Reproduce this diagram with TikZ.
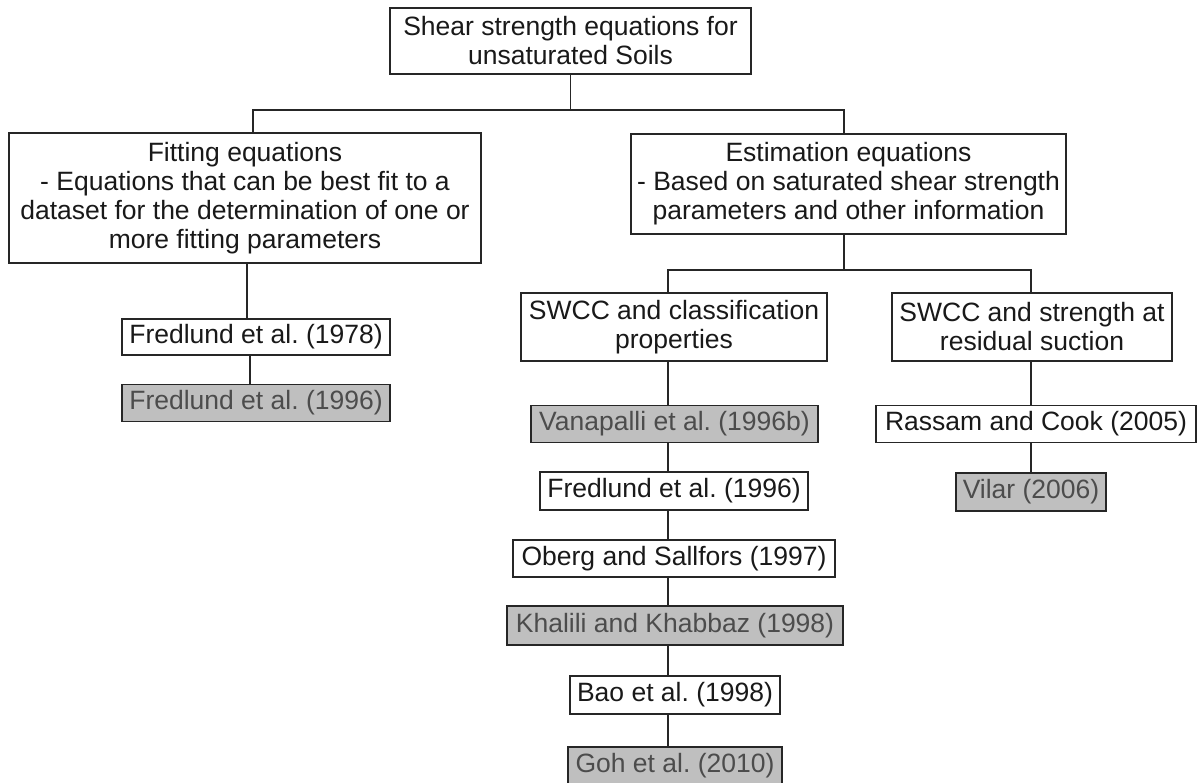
\documentclass[tikz,border=0pt]{standalone}
\usepackage{fontspec}
\setmainfont{Liberation Sans}
\frenchspacing
\definecolor{boxline}{gray}{0.15}
\definecolor{grayfill}{gray}{0.75}
\definecolor{graytext}{gray}{0.30}
\tikzset{
  basebox/.style={draw=boxline, line width=1.4pt, inner sep=0pt, align=center,
    font=\fontsize{26.5}{29}\selectfont\frenchspacing, text=black!90},
  whitebox/.style={basebox, fill=white},
  graybox/.style={basebox, fill=grayfill, text=graytext},
  conn/.style={draw=boxline, line width=1.3pt}
}
\begin{document}
\begin{tikzpicture}[x=1pt,y=-1pt]
\useasboundingbox (0,0) rectangle (1200,783);
\fill[white] (0,0) rectangle (1200,783);

\node[whitebox, minimum width=361, minimum height=66] (top) at (570.5,41)
  {Shear strength equations for\\unsaturated Soils};
\node[whitebox, minimum width=472, minimum height=130] (left) at (245,198)
  {Fitting equations\\- Equations that can be best fit to a\\dataset for the determination of one or\\more fitting parameters};
\node[whitebox, minimum width=435, minimum height=100] (est) at (848.5,184)
  {Estimation equations\\- Based on saturated shear strength\\parameters and other information};

\node[whitebox, minimum width=268, minimum height=36] (f78) at (256,337) {Fredlund et al. (1978)};
\node[graybox, minimum width=268, minimum height=37] (f96a) at (256,403) {Fredlund et al. (1996)};

\node[whitebox, minimum width=306, minimum height=68] (swcc1) at (674,327) {SWCC and classification\\properties};
\node[whitebox, minimum width=280, minimum height=68] (swcc2) at (1032,327) {SWCC and strength at\\residual suction};

\node[graybox, minimum width=287, minimum height=37] (van) at (674.5,424) {Vanapalli et al. (1996b)};
\node[whitebox, minimum width=268, minimum height=38] (f96b) at (674,491) {Fredlund et al. (1996)};
\node[whitebox, minimum width=322, minimum height=37] (ober) at (674,558.5) {Oberg and Sallfors (1997)};
\node[graybox, minimum width=336, minimum height=39] (khal) at (675,625.5) {Khalili and Khabbaz (1998)};
\node[whitebox, minimum width=210, minimum height=38] (bao) at (675,695) {Bao et al. (1998)};
\node[graybox, minimum width=214, minimum height=38] (goh) at (675,766) {Goh et al. (2010)};

\node[whitebox, minimum width=320, minimum height=37] (rass) at (1036,424) {Rassam and Cook (2005)};
\node[graybox, minimum width=150, minimum height=38] (vilar) at (1031,492) {Vilar (2006)};

\coordinate (h1) at (0,110);
\coordinate (h2) at (0,270);
\coordinate (cl) at (247,0);
\coordinate (cl2) at (250,0);
\coordinate (cm) at (668,0);
\coordinate (cr) at (1031,0);

% top bracket
\draw[conn] (top.south) -- (top.south |- h1);
\draw[conn] ([xshift=8]left.north) -- ([xshift=8]left.north |- h1)
  -- ([xshift=-4.5]est.north |- h1) -- ([xshift=-4.5]est.north);

% estimation bracket
\draw[conn] ([xshift=-4.5]est.south) -- ([xshift=-4.5]est.south |- h2);
\draw[conn] (swcc1.north -| cm) -- (cm |- h2) -- (cr |- h2) -- (swcc2.north -| cr);

% left chain
\draw[conn] (left.south -| cl) -- (f78.north -| cl);
\draw[conn] (f78.south -| cl2) -- (f96a.north -| cl2);

% middle chain
\draw[conn] (swcc1.south -| cm) -- (van.north -| cm);
\draw[conn] (van.south -| cm) -- (f96b.north -| cm);
\draw[conn] (f96b.south -| cm) -- (ober.north -| cm);
\draw[conn] (ober.south -| cm) -- (khal.north -| cm);
\draw[conn] (khal.south -| cm) -- (bao.north -| cm);
\draw[conn] (bao.south -| cm) -- (goh.north -| cm);

% right chain
\draw[conn] (swcc2.south -| cr) -- (rass.north -| cr);
\draw[conn] (rass.south -| cr) -- (vilar.north -| cr);
\end{tikzpicture}
\end{document}
